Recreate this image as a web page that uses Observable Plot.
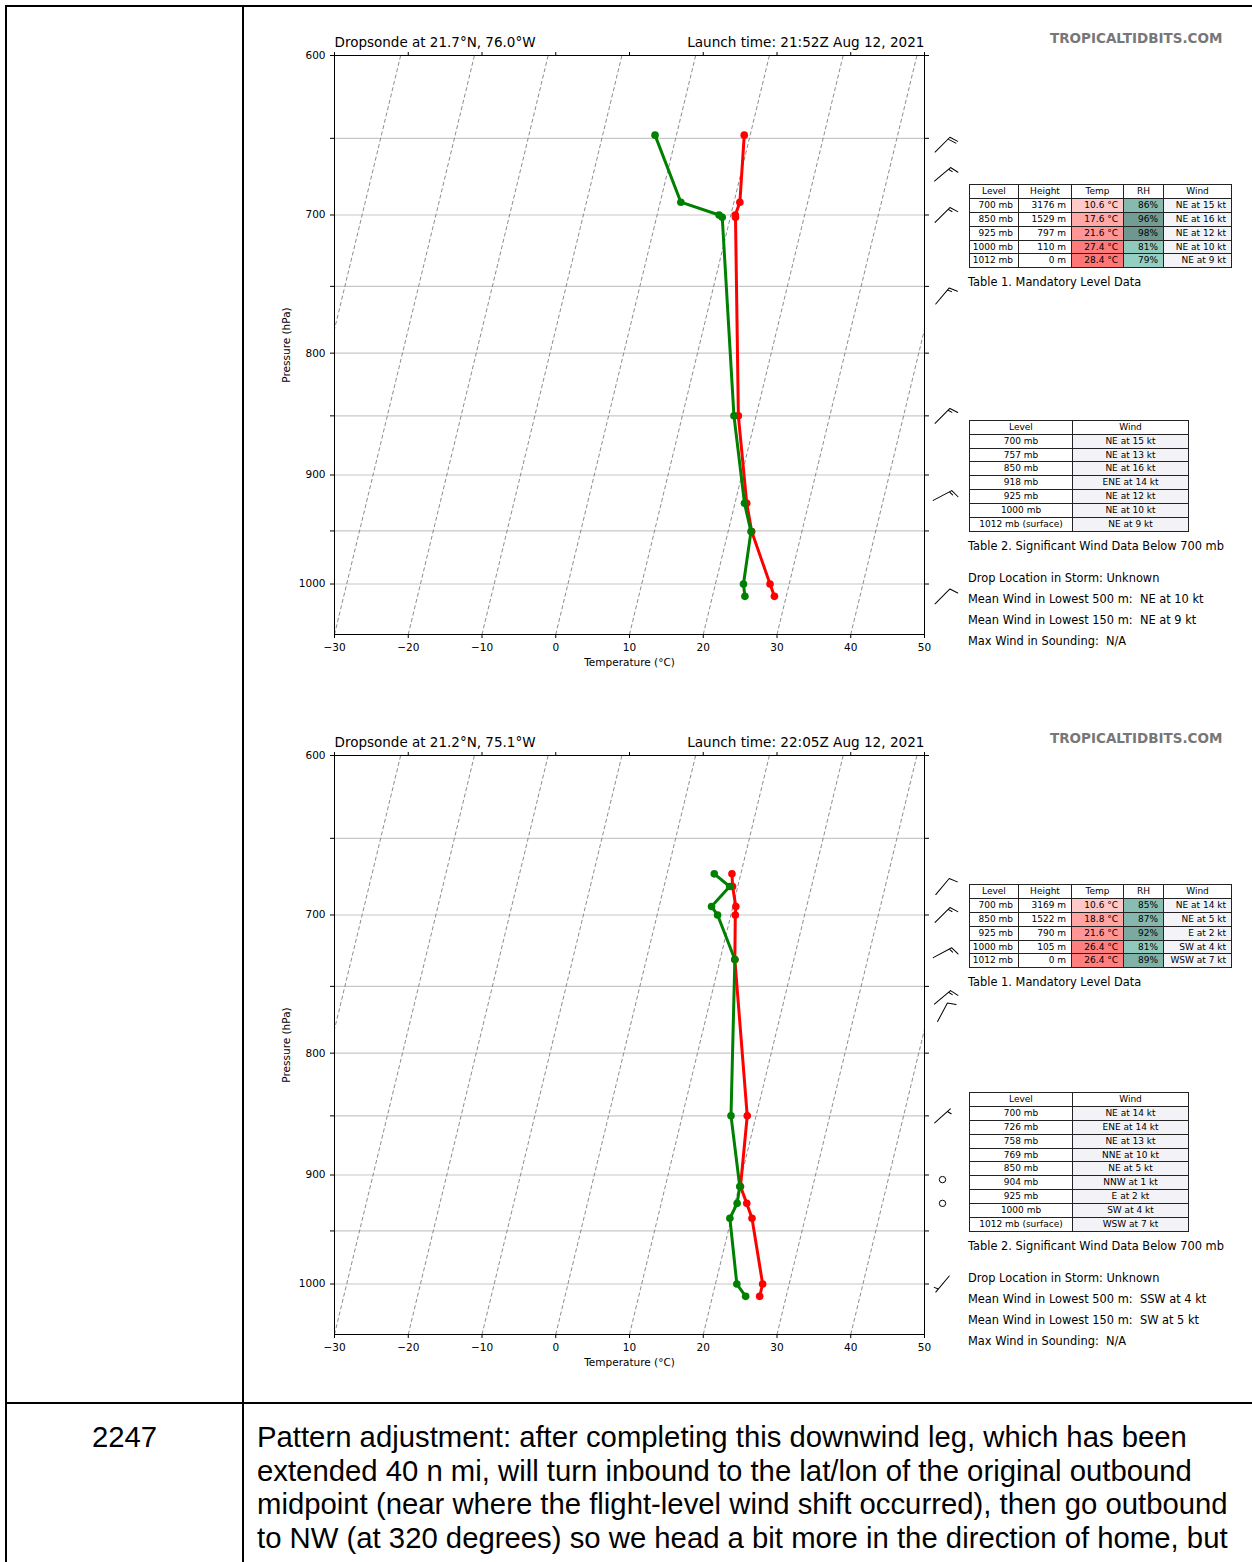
<!DOCTYPE html>
<html><head><meta charset="utf-8">
<script src="https://cdn.jsdelivr.net/npm/d3@7"></script>
<script src="https://cdn.jsdelivr.net/npm/@observablehq/plot@0.6"></script>
<style>
body{margin:0;background:#fff;}
#page{position:relative;width:1252px;height:1562px;overflow:hidden;font-family:"DejaVu Sans",sans-serif;color:#000;}
.ln{position:absolute;background:#000;}
.abs{position:absolute;white-space:pre;}
.brand{font-weight:bold;font-size:13.5px;color:#777;line-height:16px;}
.tbl{position:absolute;display:grid;border-left:1px solid #222;border-top:1px solid #222;font-size:9px;}
.tbl div{border-right:1px solid #222;border-bottom:1px solid #222;box-sizing:border-box;line-height:12.9px;white-space:nowrap;overflow:hidden;padding:0 5px 0 2px;text-align:right;}
.tbl div.h{text-align:center;background:#fff;padding:0;}
.tbl div.c{text-align:center;padding:0;}
.cap{font-size:11.4px;line-height:14px;}
.doc{position:absolute;font-family:"Liberation Sans",Arial,sans-serif;font-size:29.3px;line-height:33.7px;white-space:nowrap;}
</style></head>
<body><div id="page">
<div class="ln" style="left:5px;top:5px;width:1247px;height:2px"></div>
<div class="ln" style="left:5px;top:5px;width:2px;height:1557px"></div>
<div class="ln" style="left:242px;top:5px;width:2px;height:1557px"></div>
<div class="ln" style="left:5px;top:1402px;width:1247px;height:2px"></div>
<div class="doc" style="left:7px;width:235px;top:1420px;text-align:center">2247</div>
<div class="doc" style="left:257px;top:1420px">Pattern adjustment: after completing this downwind leg, which has been<br>extended 40 n mi, will turn inbound to the lat/lon of the original outbound<br>midpoint (near where the flight-level wind shift occurred), then go outbound<br>to NW (at 320 degrees) so we head a bit more in the direction of home, but</div>
</div>
<script>
// ---------- data ----------
const xTicks = [-30, -20, -10, 0, 10, 20, 30, 40, 50];
const yTicks = [600, 650, 700, 750, 800, 850, 900, 950, 1000];
const yLabelTicks = [600, 700, 800, 900, 1000];
const gridPres = [650, 700, 750, 800, 850, 900, 950, 1000];
const isotherms = [-40, -30, -20, -10, 0, 10, 20, 30, 40];

// Sounding 1
const s1Title = "Dropsonde at 21.7°N, 76.0°W";
const s1Launch = "Launch time: 21:52Z Aug 12, 2021";
const s1Pres = [648, 691.4, 700, 701.5, 850, 925, 950.6, 1000, 1012];
const s1Temp = [9.2, 10.8, 10.6, 10.7, 17.6, 21.6, 23.2, 27.4, 28.4];
const s1Dew = [-2.9, 2.8, 8.4, 8.9, 17.0, 21.3, 23.1, 23.8, 24.4];
const b1Pres = [654, 673, 700, 757, 850, 918, 1012];
const b1Dir = [45, 50, 45, 40, 45, 62, 45];
const b1Spd = [19, 15, 15, 13, 16, 14, 9];
const t1Level = ["700 mb", "850 mb", "925 mb", "1000 mb", "1012 mb"];
const t1Height = ["3176 m", "1529 m", "797 m", "110 m", "0 m"];
const t1Temp = [10.6, 17.6, 21.6, 27.4, 28.4];
const t1RH = [86, 96, 98, 81, 79];
const t1Wind = ["NE at 15 kt", "NE at 16 kt", "NE at 12 kt", "NE at 10 kt", "NE at 9 kt"];
const w1Level = ["700 mb", "757 mb", "850 mb", "918 mb", "925 mb", "1000 mb", "1012 mb (surface)"];
const w1Wind = ["NE at 15 kt", "NE at 13 kt", "NE at 16 kt", "ENE at 14 kt", "NE at 12 kt", "NE at 10 kt", "NE at 9 kt"];
const info1 = ["Drop Location in Storm: Unknown", "Mean Wind in Lowest 500 m:  NE at 10 kt", "Mean Wind in Lowest 150 m:  NE at 9 kt", "Max Wind in Sounding:  N/A"];

// Sounding 2
const s2Title = "Dropsonde at 21.2°N, 75.1°W";
const s2Launch = "Launch time: 22:05Z Aug 12, 2021";
const s2Pres = [672.7, 681, 694.3, 700, 730.8, 850, 910, 925, 938.4, 1000, 1012];
const s2Temp = [8.8, 9.3, 10.4, 10.6, 12.0, 18.8, 20.2, 21.6, 22.8, 26.4, 26.4];
const s2Dew = [6.4, 8.9, 7.1, 8.2, 12.0, 16.6, 20.1, 20.3, 19.8, 22.9, 24.5];
const b2Pres = [681, 700, 726, 758, 769, 850, 904, 925, 1000];
const b2Dir = [40, 45, 62, 50, 28, 48, 337, 90, 220];
const b2Spd = [10, 14, 14, 13, 10, 5, 1, 2, 4];
const t2Level = ["700 mb", "850 mb", "925 mb", "1000 mb", "1012 mb"];
const t2Height = ["3169 m", "1522 m", "790 m", "105 m", "0 m"];
const t2Temp = [10.6, 18.8, 21.6, 26.4, 26.4];
const t2RH = [85, 87, 92, 81, 89];
const t2Wind = ["NE at 14 kt", "NE at 5 kt", "E at 2 kt", "SW at 4 kt", "WSW at 7 kt"];
const w2Level = ["700 mb", "726 mb", "758 mb", "769 mb", "850 mb", "904 mb", "925 mb", "1000 mb", "1012 mb (surface)"];
const w2Wind = ["NE at 14 kt", "ENE at 14 kt", "NE at 13 kt", "NNE at 10 kt", "NE at 5 kt", "NNW at 1 kt", "E at 2 kt", "SW at 4 kt", "WSW at 7 kt"];
const info2 = ["Drop Location in Storm: Unknown", "Mean Wind in Lowest 500 m:  SSW at 4 kt", "Mean Wind in Lowest 150 m:  SW at 5 kt", "Max Wind in Sounding:  N/A"];

// ---------- skew-T helpers ----------
const PB = 1050, PT = 600, SKEW = 33.9;
const skewX = (t, p) => t + SKEW * Math.log(PB / p);
const roundSpd = (s) => Math.round(s / 5) * 5;

function barbShape(spd) {
  const s = roundSpd(spd);
  const full = Math.floor(s / 10), half = s % 10 === 5;
  return {
    draw(ctx, l) {
      const H = 0.4 * l, W = 0.25 * l, S = 0.125 * l;
      ctx.moveTo(0, 0); ctx.lineTo(0, -l);
      let d = 0;
      for (let i = 0; i < full; i++) { ctx.moveTo(0, -l + d); ctx.lineTo(H, -l + d - W / 2); d += S; }
      if (half) { if (d === 0) d = 1.5 * S; ctx.moveTo(0, -l + d); ctx.lineTo(H / 2, -l + d - W / 4); }
    }
  };
}

const tempColor = d3.scaleLinear().domain([10, 30]).range(["#ffcccc", "#ff6e6e"]).clamp(true);
const rhColor = d3.scaleLinear().domain([79, 98]).range(["#94cfc4", "#6e978f"]).clamp(true);

function skewT(pres, temp, dew, bPres, bDir, bSpd, titleL, titleR) {
  const prof = pres.map((p, i) => ({p, t: temp[i], d: dew[i]}));
  const barbs = bPres.map((p, i) => ({p, dir: bDir[i], spd: bSpd[i]}));
  const windy = barbs.filter(b => roundSpd(b.spd) > 0);
  const calm = barbs.filter(b => roundSpd(b.spd) === 0);
  return Plot.plot({
    width: 730, height: 660,
    marginLeft: 84, marginRight: 56, marginTop: 35, marginBottom: 46,
    x: {type: "linear", domain: [-30, 50]},
    y: {type: "log", domain: [PB, PT]},
    style: {fontFamily: "DejaVu Sans", fontSize: "10.5px", color: "black", background: "white", overflow: "visible"},
    marks: [
      Plot.ruleY(gridPres, {stroke: "#c8c8c8", strokeWidth: 1.2}),
      Plot.link(isotherms, {x1: t => t, y1: () => PB, x2: t => skewX(t, PT), y2: () => PT,
        stroke: "#7f7f7f", strokeWidth: 0.9, strokeDasharray: "4,2.5", clip: true}),
      Plot.line(prof, {x: d => skewX(d.t, d.p), y: "p", stroke: "#ff0000", strokeWidth: 3}),
      Plot.dot(prof, {x: d => skewX(d.t, d.p), y: "p", r: 3.8, fill: "#ff0000"}),
      Plot.line(prof, {x: d => skewX(d.d, d.p), y: "p", stroke: "#008000", strokeWidth: 3}),
      Plot.dot(prof, {x: d => skewX(d.d, d.p), y: "p", r: 3.8, fill: "#008000"}),
      Plot.frame({stroke: "black", strokeWidth: 1}),
      Plot.axisX({anchor: "bottom", ticks: xTicks, tickSize: 4, fontSize: 10.5, label: null}),
      Plot.axisX({anchor: "top", ticks: xTicks, tickSize: 4, tickFormat: () => "", label: null}),
      Plot.axisY({anchor: "left", ticks: yTicks, tickSize: 4, fontSize: 10.5,
        tickFormat: d => yLabelTicks.includes(d) ? String(d) : "", label: null}),
      Plot.axisY({anchor: "right", ticks: yTicks, tickSize: 4, tickFormat: () => "", label: null}),
      Plot.text(["Temperature (°C)"], {text: d => d, frameAnchor: "bottom", lineAnchor: "middle", dy: 28, fontSize: 10.5}),
      Plot.text(["Pressure (hPa)"], {text: d => d, frameAnchor: "left", textAnchor: "middle", lineAnchor: "middle", dx: -48, rotate: -90, fontSize: 10.5}),
      Plot.text([titleL], {text: d => d, frameAnchor: "top-left", textAnchor: "start", lineAnchor: "middle", dy: -13, fontSize: 13.5}),
      Plot.text([titleR], {text: d => d, frameAnchor: "top-right", textAnchor: "end", lineAnchor: "middle", dy: -13, fontSize: 13.6}),
      ...windy.map(b => Plot.vector([b], {y: "p", rotate: "dir", length: 21, anchor: "middle",
        frameAnchor: "right", dx: 18, stroke: "black", strokeWidth: 1, shape: barbShape(b.spd)})),
      Plot.dot(calm, {y: "p", frameAnchor: "right", dx: 18, r: 3.2, stroke: "black", fill: "none", strokeWidth: 1})
    ]
  });
}

function el(tag, cls, style, text) {
  const e = document.createElement(tag);
  if (cls) e.className = cls;
  if (style) e.setAttribute("style", style);
  if (text != null) e.textContent = text;
  return e;
}

function table1(top, level, height, temp, rh, wind) {
  const t = el("div", "tbl", `left:969px;top:${top}px;grid-template-columns:49px 53px 52px 40px 68px;grid-auto-rows:13.9px;`);
  ["Level", "Height", "Temp", "RH", "Wind"].forEach(h => t.appendChild(el("div", "h", null, h)));
  level.forEach((lv, i) => {
    t.appendChild(el("div", null, "background:#fff", lv));
    t.appendChild(el("div", null, "background:#fff", height[i]));
    t.appendChild(el("div", null, `background:${tempColor(temp[i])}`, temp[i].toFixed(1) + " °C"));
    t.appendChild(el("div", null, `background:${rhColor(rh[i])}`, rh[i] + "%"));
    t.appendChild(el("div", null, "background:#f4f4f8", wind[i]));
  });
  return t;
}

function table2(top, level, wind) {
  const t = el("div", "tbl", `left:969px;top:${top}px;grid-template-columns:103px 116px;grid-auto-rows:13.9px;`);
  ["Level", "Wind"].forEach(h => t.appendChild(el("div", "h", null, h)));
  level.forEach((lv, i) => {
    t.appendChild(el("div", "c", "background:#fff", lv));
    t.appendChild(el("div", "c", "background:#f3f3f7", wind[i]));
  });
  return t;
}

function panel(off, cfg) {
  const page = document.getElementById("page");
  const holder = el("div", null, `position:absolute;left:250px;top:${20 + off}px;`);
  holder.appendChild(skewT(cfg.pres, cfg.temp, cfg.dew, cfg.bPres, cfg.bDir, cfg.bSpd, cfg.title, cfg.launch));
  page.appendChild(holder);
  page.appendChild(el("div", "abs brand", `left:1050px;top:${30 + off}px;`, "TROPICALTIDBITS.COM"));
  page.appendChild(table1(184 + off, cfg.tLevel, cfg.tHeight, cfg.tTemp, cfg.tRH, cfg.tWind));
  page.appendChild(el("div", "abs cap", `left:968px;top:${275 + off}px;`, "Table 1. Mandatory Level Data"));
  const t2top = 531 + off - 13.9 * (cfg.wLevel.length + 1);
  page.appendChild(table2(t2top, cfg.wLevel, cfg.wWind));
  page.appendChild(el("div", "abs cap", `left:968px;top:${538.7 + off}px;`, "Table 2. Significant Wind Data Below 700 mb"));
  cfg.info.forEach((s, i) => page.appendChild(el("div", "abs cap", `left:968px;top:${571 + off + i * 21}px;`, s)));
}

panel(0, {pres: s1Pres, temp: s1Temp, dew: s1Dew, bPres: b1Pres, bDir: b1Dir, bSpd: b1Spd, title: s1Title, launch: s1Launch,
  tLevel: t1Level, tHeight: t1Height, tTemp: t1Temp, tRH: t1RH, tWind: t1Wind, wLevel: w1Level, wWind: w1Wind, info: info1});
panel(700, {pres: s2Pres, temp: s2Temp, dew: s2Dew, bPres: b2Pres, bDir: b2Dir, bSpd: b2Spd, title: s2Title, launch: s2Launch,
  tLevel: t2Level, tHeight: t2Height, tTemp: t2Temp, tRH: t2RH, tWind: t2Wind, wLevel: w2Level, wWind: w2Wind, info: info2});
</script>
</body></html>
